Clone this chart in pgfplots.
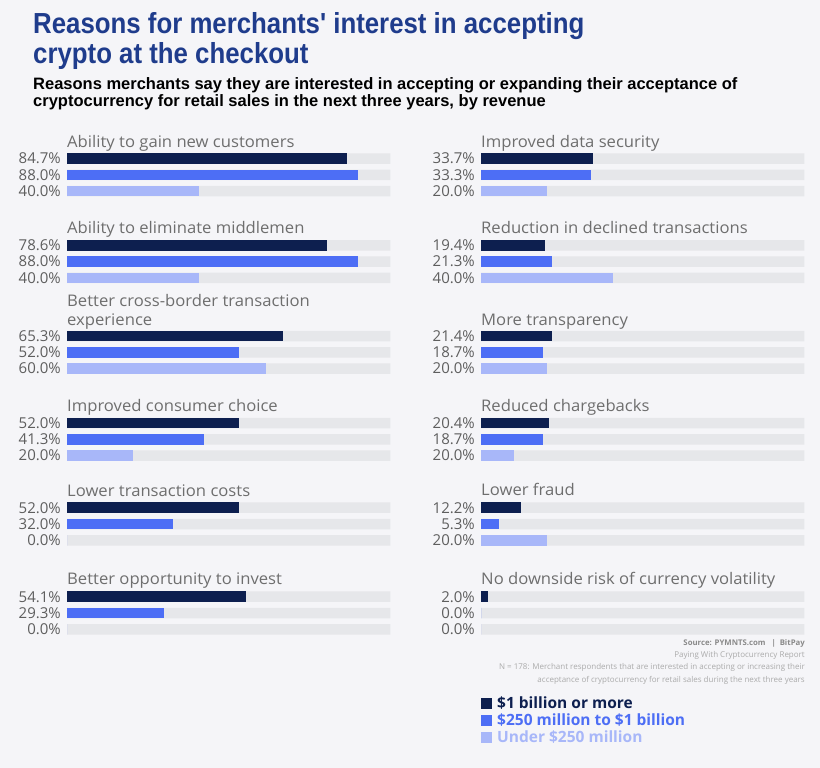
\documentclass[border=0pt]{standalone}
\usepackage{pgfplots}
\pgfplotsset{compat=1.18}
\usepackage{fontspec}
\setmainfont{Open Sans}
\newfontfamily\titlefont[FakeStretch=0.89]{Liberation Sans}
\newfontfamily\subfont{Liberation Sans}
\newfontfamily\labfont[FakeStretch=1.04]{Open Sans}
\definecolor{bgc}{HTML}{F5F5F8}
\definecolor{trackc}{HTML}{E6E7EA}
\definecolor{cA}{HTML}{0D1F4F}
\definecolor{cB}{HTML}{4D6EF5}
\definecolor{cC}{HTML}{A8B7F9}
\definecolor{titlec}{HTML}{1F3C8C}
\definecolor{labc}{HTML}{6E6E6E}
\definecolor{pctc}{HTML}{5E5E5E}
\definecolor{srcc}{HTML}{8A8A8A}
\definecolor{notec}{HTML}{ABABAB}
\pgfplotsset{panel/.style={
  xbar, scale only axis, width=331bp, height=48.9bp,
  xmin=0, xmax=100, ymin=0.5, ymax=3.5, y dir=reverse,
  axis line style={draw=none}, xtick=\empty, ytick={1,2,3},
  major tick length=0pt,
  yticklabel style={font=\fontsize{15bp}{16bp}\selectfont, text=pctc, inner sep=0pt, xshift=-6bp},
  bar width=10.5bp, bar shift=0pt,
  anchor=west, clip=false,
}}
\newcommand{\lab}{\labfont\fontsize{16bp}{19bp}\selectfont\color{labc}}
\begin{document}
\begin{tikzpicture}
\fill[bgc] (0,0) rectangle (820bp,-768bp);
% titles
\node[anchor=base west, inner sep=0pt, text=titlec, font=\titlefont\bfseries\fontsize{29bp}{30bp}\selectfont] at (33bp,-33bp) {Reasons for merchants' interest in accepting};
\node[anchor=base west, inner sep=0pt, text=titlec, font=\titlefont\bfseries\fontsize{29bp}{30bp}\selectfont] at (33bp,-63bp) {crypto at the checkout};
\node[anchor=base west, inner sep=0pt, text=black, font=\subfont\bfseries\fontsize{16.5bp}{17bp}\selectfont] at (33bp,-89bp) {Reasons merchants say they are interested in accepting or expanding their acceptance of};
\node[anchor=base west, inner sep=0pt, text=black, font=\subfont\bfseries\fontsize{16.5bp}{17bp}\selectfont] at (33bp,-106bp) {cryptocurrency for retail sales in the next three years, by revenue};
% ---------- left column ----------
\node[anchor=base west, inner sep=0pt] at (67bp,-147bp) {\lab Ability to gain new customers};
\begin{axis}[panel, at={(67bp,-174.8bp)}, yticklabels={84.7\%,88.0\%,40.0\%}]
\addplot[fill=trackc, draw=none] coordinates {(97.7,1) (97.7,2) (97.7,3)};
\addplot[fill=cA, draw=none] coordinates {(84.7,1)};
\addplot[fill=cB, draw=none] coordinates {(88.0,2)};
\addplot[fill=cC, draw=none] coordinates {(40.0,3)};
\end{axis}
\node[anchor=base west, inner sep=0pt] at (67bp,-233.5bp) {\lab Ability to eliminate middlemen};
\begin{axis}[panel, at={(67bp,-261.6bp)}, yticklabels={78.6\%,88.0\%,40.0\%}]
\addplot[fill=trackc, draw=none] coordinates {(97.7,1) (97.7,2) (97.7,3)};
\addplot[fill=cA, draw=none] coordinates {(78.6,1)};
\addplot[fill=cB, draw=none] coordinates {(88.0,2)};
\addplot[fill=cC, draw=none] coordinates {(40.0,3)};
\end{axis}
\node[anchor=base west, inner sep=0pt] at (67bp,-306.5bp) {\lab Better cross-border transaction};
\node[anchor=base west, inner sep=0pt] at (67bp,-325bp) {\lab experience};
\begin{axis}[panel, at={(67bp,-352.3bp)}, yticklabels={65.3\%,52.0\%,60.0\%}]
\addplot[fill=trackc, draw=none] coordinates {(97.7,1) (97.7,2) (97.7,3)};
\addplot[fill=cA, draw=none] coordinates {(65.3,1)};
\addplot[fill=cB, draw=none] coordinates {(52.0,2)};
\addplot[fill=cC, draw=none] coordinates {(60.0,3)};
\end{axis}
\node[anchor=base west, inner sep=0pt] at (67bp,-411.5bp) {\lab Improved consumer choice};
\begin{axis}[panel, at={(67bp,-439.3bp)}, yticklabels={52.0\%,41.3\%,20.0\%}]
\addplot[fill=trackc, draw=none] coordinates {(97.7,1) (97.7,2) (97.7,3)};
\addplot[fill=cA, draw=none] coordinates {(52.0,1)};
\addplot[fill=cB, draw=none] coordinates {(41.3,2)};
\addplot[fill=cC, draw=none] coordinates {(20.0,3)};
\end{axis}
\node[anchor=base west, inner sep=0pt] at (67bp,-496bp) {\lab Lower transaction costs};
\begin{axis}[panel, at={(67bp,-524bp)}, yticklabels={52.0\%,32.0\%,0.0\%}]
\addplot[fill=trackc, draw=none] coordinates {(97.7,1) (97.7,2) (97.7,3)};
\addplot[fill=cA, draw=none] coordinates {(52.0,1)};
\addplot[fill=cB, draw=none] coordinates {(32.0,2)};
\addplot[fill=cC, draw=none] coordinates {(0.0,3)};
\end{axis}
\node[anchor=base west, inner sep=0pt] at (67bp,-584.5bp) {\lab Better opportunity to invest};
\begin{axis}[panel, at={(67bp,-613bp)}, yticklabels={54.1\%,29.3\%,0.0\%}]
\addplot[fill=trackc, draw=none] coordinates {(97.7,1) (97.7,2) (97.7,3)};
\addplot[fill=cA, draw=none] coordinates {(54.1,1)};
\addplot[fill=cB, draw=none] coordinates {(29.3,2)};
\addplot[fill=cC, draw=none] coordinates {(0.0,3)};
\end{axis}
% ---------- right column ----------
\node[anchor=base west, inner sep=0pt] at (481bp,-147bp) {\lab Improved data security};
\begin{axis}[panel, at={(481bp,-174.8bp)}, yticklabels={33.7\%,33.3\%,20.0\%}]
\addplot[fill=trackc, draw=none] coordinates {(97.7,1) (97.7,2) (97.7,3)};
\addplot[fill=cA, draw=none] coordinates {(33.7,1)};
\addplot[fill=cB, draw=none] coordinates {(33.3,2)};
\addplot[fill=cC, draw=none] coordinates {(20.0,3)};
\end{axis}
\node[anchor=base west, inner sep=0pt] at (481bp,-233.5bp) {\lab Reduction in declined transactions};
\begin{axis}[panel, at={(481bp,-261.6bp)}, yticklabels={19.4\%,21.3\%,40.0\%}]
\addplot[fill=trackc, draw=none] coordinates {(97.7,1) (97.7,2) (97.7,3)};
\addplot[fill=cA, draw=none] coordinates {(19.4,1)};
\addplot[fill=cB, draw=none] coordinates {(21.3,2)};
\addplot[fill=cC, draw=none] coordinates {(40.0,3)};
\end{axis}
\node[anchor=base west, inner sep=0pt] at (481bp,-325bp) {\lab More transparency};
\begin{axis}[panel, at={(481bp,-352.3bp)}, yticklabels={21.4\%,18.7\%,20.0\%}]
\addplot[fill=trackc, draw=none] coordinates {(97.7,1) (97.7,2) (97.7,3)};
\addplot[fill=cA, draw=none] coordinates {(21.4,1)};
\addplot[fill=cB, draw=none] coordinates {(18.7,2)};
\addplot[fill=cC, draw=none] coordinates {(20.0,3)};
\end{axis}
\node[anchor=base west, inner sep=0pt] at (481bp,-411bp) {\lab Reduced chargebacks};
\begin{axis}[panel, at={(481bp,-439.3bp)}, yticklabels={20.4\%,18.7\%,20.0\%}]
\addplot[fill=trackc, draw=none] coordinates {(97.7,1) (97.7,2) (97.7,3)};
\addplot[fill=cA, draw=none] coordinates {(20.4,1)};
\addplot[fill=cB, draw=none] coordinates {(18.7,2)};
\addplot[fill=cC, draw=none] coordinates {(10.0,3)};
\end{axis}
\node[anchor=base west, inner sep=0pt] at (481bp,-495.5bp) {\lab Lower fraud};
\begin{axis}[panel, at={(481bp,-524bp)}, yticklabels={12.2\%,5.3\%,20.0\%}]
\addplot[fill=trackc, draw=none] coordinates {(97.7,1) (97.7,2) (97.7,3)};
\addplot[fill=cA, draw=none] coordinates {(12.2,1)};
\addplot[fill=cB, draw=none] coordinates {(5.3,2)};
\addplot[fill=cC, draw=none] coordinates {(20.0,3)};
\end{axis}
\node[anchor=base west, inner sep=0pt] at (481bp,-584bp) {\lab No downside risk of currency volatility};
\begin{axis}[panel, at={(481bp,-613bp)}, yticklabels={2.0\%,0.0\%,0.0\%}]
\addplot[fill=trackc, draw=none] coordinates {(97.7,1) (97.7,2) (97.7,3)};
\addplot[fill=cA, draw=none] coordinates {(2.0,1)};
\addplot[fill=cB, draw=none] coordinates {(0.0,2)};
\addplot[fill=cC, draw=none] coordinates {(0.0,3)};
\end{axis}
% ---------- source ----------
\node[anchor=base east, inner sep=0pt, text=srcc, font=\bfseries\fontsize{7.8bp}{9bp}\selectfont] at (805bp,-645bp) {Source: PYMNTS.com \enspace|\enspace BitPay};
\node[anchor=base east, inner sep=0pt, text=notec, font=\fontsize{8bp}{9bp}\selectfont] at (805bp,-657bp) {Paying With Cryptocurrency Report};
\node[anchor=base east, inner sep=0pt, text=notec, font=\fontsize{8bp}{9bp}\selectfont] at (805bp,-669bp) {N = 178: Merchant respondents that are interested in accepting or increasing their};
\node[anchor=base east, inner sep=0pt, text=notec, font=\fontsize{8bp}{9bp}\selectfont] at (805bp,-682bp) {acceptance of cryptocurrency for retail sales during the next three years};
% ---------- legend ----------
\fill[cA] (481bp,-697.5bp) rectangle (492bp,-708.5bp);
\fill[cB] (481bp,-714.5bp) rectangle (492bp,-725.5bp);
\fill[cC] (481bp,-731.5bp) rectangle (492bp,-742.5bp);
\node[anchor=base west, inner sep=0pt, text=cA, font=\bfseries\fontsize{15.5bp}{17bp}\selectfont] at (497bp,-708.5bp) {\$1 billion or more};
\node[anchor=base west, inner sep=0pt, text=cB, font=\bfseries\fontsize{15.5bp}{17bp}\selectfont] at (497bp,-725.5bp) {\$250 million to \$1 billion};
\node[anchor=base west, inner sep=0pt, text=cC, font=\bfseries\fontsize{15.5bp}{17bp}\selectfont] at (497bp,-742.5bp) {Under \$250 million};
\pgfresetboundingbox
\path[use as bounding box] (0,0) rectangle (820bp,-768bp);
\end{tikzpicture}
\end{document}
